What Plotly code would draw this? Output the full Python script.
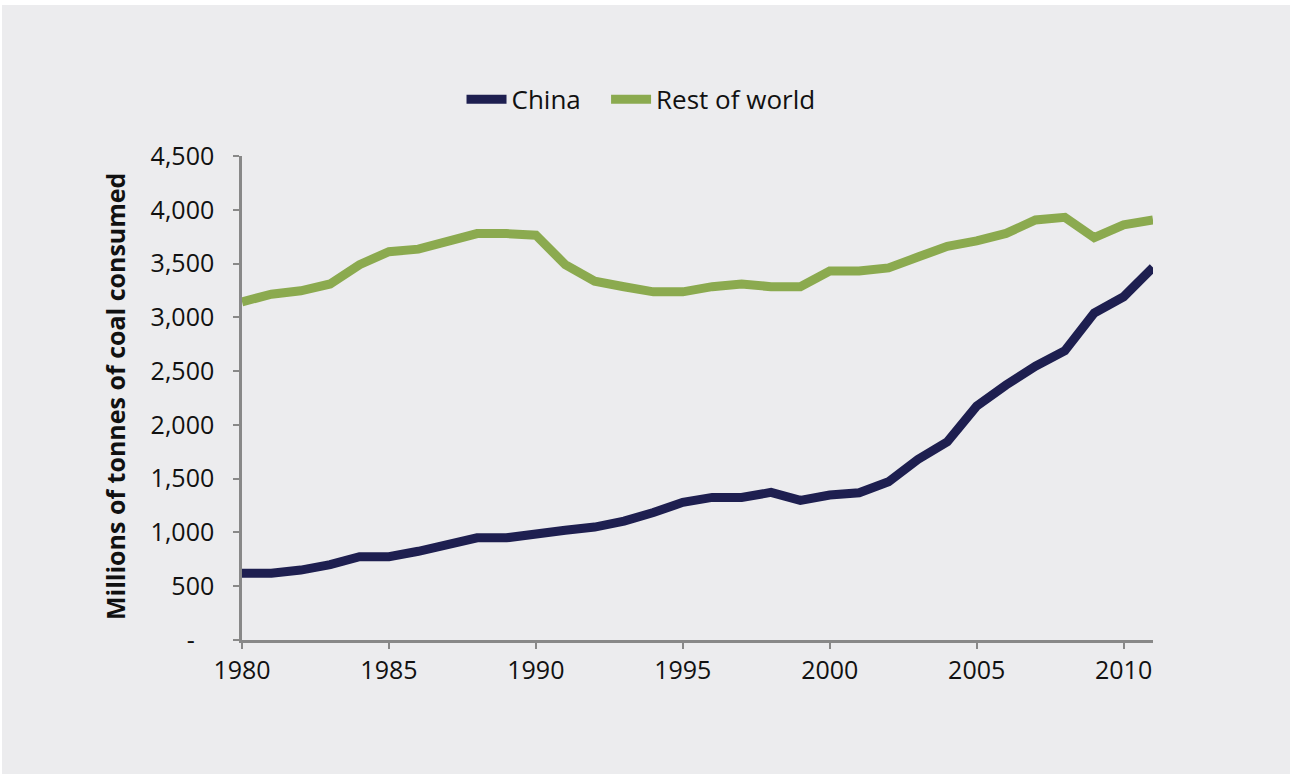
import plotly.graph_objects as go

years = list(range(1980, 2012))
china = [620, 620, 650, 700, 775, 775, 825, 880, 950, 950, 975, 1020, 1050, 1105, 1185, 1280,
         1326, 1326, 1372, 1298, 1348, 1369, 1471, 1679, 1843, 2175, 2370, 2546, 2689, 3040, 3191, 3464]
rest_of_world = [3144, 3215, 3247, 3310, 3490, 3610, 3634, 3702, 3779, 3779, 3764, 3490, 3336, 3284, 3237, 3237,
                 3285, 3310, 3285, 3285, 3430, 3430, 3460, 3560, 3660, 3710, 3780, 3905, 3930, 3740, 3860, 3905]

y_tickvals = [0, 500, 1000, 1500, 2000, 2500, 3000, 3500, 4000, 4500]
y_ticktext = ["-\u00a0\u00a0\u00a0", "500", "1,000", "1,500", "2,000", "2,500", "3,000", "3,500", "4,000", "4,500"]
x_tickvals = [1980, 1985, 1990, 1995, 2000, 2005, 2010]
y_title = "Millions of tonnes of coal consumed"

BG = "#ECECEE"
FONT = "'Open Sans', 'Noto Sans', sans-serif"

fig = go.Figure()
fig.add_trace(go.Scatter(x=years, y=china, mode="lines", name="China\u00a0\u00a0\u00a0",
                         line=dict(color="#1E1F50", width=9)))
fig.add_trace(go.Scatter(x=years, y=rest_of_world, mode="lines", name="Rest of world",
                         line=dict(color="#8BAA4F", width=9)))

fig.update_layout(
    width=1290, height=774,
    paper_bgcolor="white", plot_bgcolor=BG,
    margin=dict(l=242, r=137, t=156, b=134),
    font=dict(family=FONT, color="#111111"),
    showlegend=True,
    legend=dict(orientation="h", x=0.438, xanchor="center", y=1.117, yanchor="middle",
                font=dict(size=26, family=FONT), bgcolor="rgba(0,0,0,0)",
                itemwidth=40, tracegroupgap=0),
    shapes=[dict(type="rect", xref="paper", yref="paper", layer="below",
                 x0=-0.2634, x1=1.16, y0=-0.3, y1=1.312,
                 fillcolor=BG, line=dict(width=0))],
    annotations=[dict(text="<b>" + y_title + "</b>", xref="paper", yref="paper",
                      x=-0.1395, y=0.504, xanchor="center", yanchor="middle",
                      textangle=-90, showarrow=False,
                      font=dict(size=25, family=FONT, color="#111111"))],
)
fig.update_xaxes(range=[1980, 2011], tickvals=x_tickvals, showgrid=False, zeroline=False,
                 showline=True, linecolor="#888888", linewidth=2.5,
                 ticks="outside", ticklen=6, tickcolor="#888888", tickwidth=2,
                 tickfont=dict(size=25, family=FONT, color="#111111"))
fig.update_yaxes(range=[0, 4500], tickvals=y_tickvals, ticktext=y_ticktext, showgrid=False,
                 zeroline=False, showline=True, linecolor="#888888", linewidth=2.5,
                 ticks="outside", ticklen=6, tickcolor="#888888", tickwidth=2,
                 ticklabelstandoff=14,
                 tickfont=dict(size=25, family=FONT, color="#111111"))

fig.write_html("out.html", config={"displayModeBar": False},
               post_script="document.body.style.margin='0';")
